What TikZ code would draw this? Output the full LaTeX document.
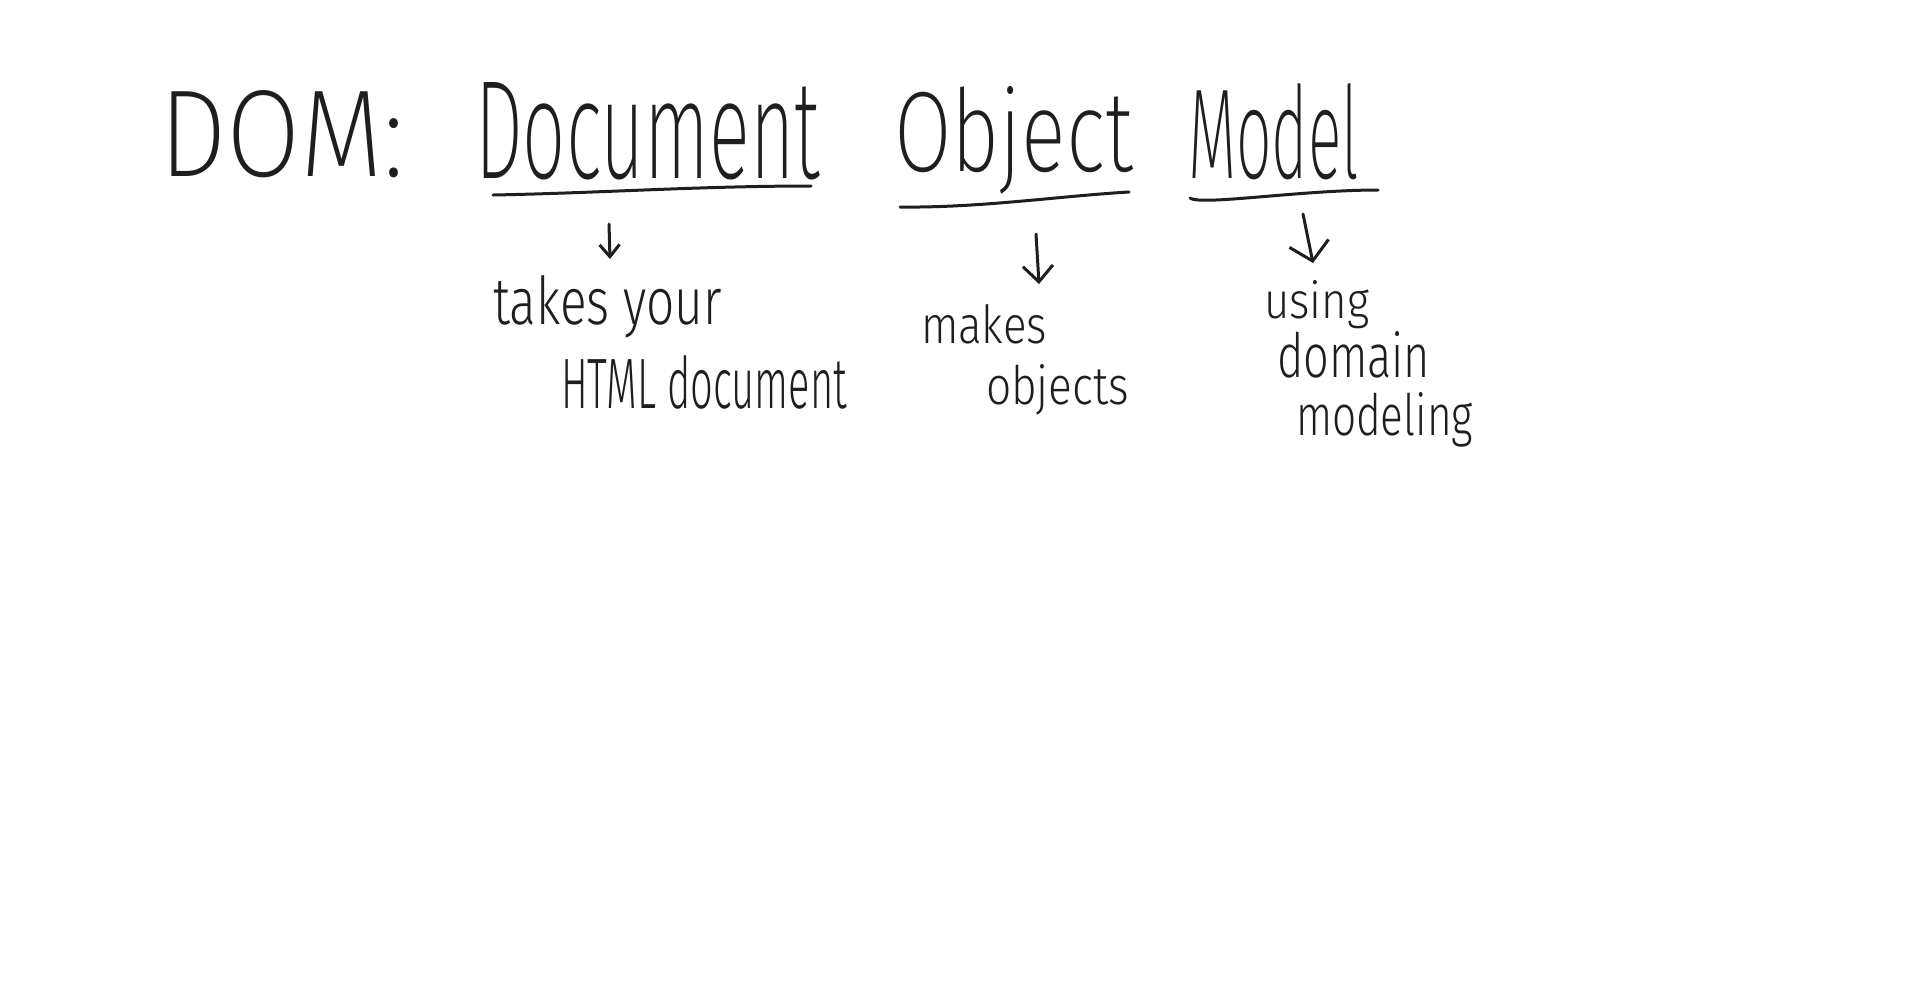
\documentclass[tikz,border=0pt]{standalone}
\usepackage{fontspec}
\usepackage{graphicx}
\newfontfamily\hand{Fira Sans Light}
\newfontfamily\handthin{Fira Sans ExtraLight}
\usetikzlibrary{arrows.meta}
\definecolor{ink}{HTML}{1E1E1E}
\tikzset{
  hw/.style={inner sep=0pt, outer sep=0pt, anchor=base west, text=ink},
  stroke/.style={draw=ink, line width=3pt, line cap=round, line join=round},
  harrow/.style={stroke, -{Straight Barb[length=16pt,width=30pt,line width=3pt]}},
}
\newcommand\hwtext[3]{\resizebox{#1pt}{#2pt}{\fontsize{40}{48}\hand #3}}
\newcommand\hwbig[3]{\resizebox{#1pt}{#2pt}{\fontsize{40}{48}\handthin #3}}
\begin{document}
\begin{tikzpicture}[x=1pt,y=-1pt]
\useasboundingbox (0,0) rectangle (1920,997);
\fill[white] (0,0) rectangle (1920,997);
% title words
\node[hw] (dom) at (159,176) {\hwbig{245}{86}{DOM:}};
\node[hw] (document) at (475,178) {\hwbig{345}{96}{Document}};
\node[hw] (object) at (894,171) {\hwbig{239}{85}{Object}};
\node[hw] (model) at (1188,178) {\hwbig{171}{95}{Model}};
% underlines
\draw[stroke] (493,195) .. controls (600,193) and (700,186) .. (811,186);
\draw[stroke] (900,207) .. controls (980,208) and (1060,196) .. (1129,192);
\draw[stroke] (1190,198) .. controls (1200,206) and (1300,190) .. (1378,190);
% explanations
\node[hw] (takes) at (493,324) {\hwtext{229}{49}{takes your}};
\node[hw] (html) at (561,408) {\hwtext{286}{53}{HTML document}};
\node[hw] (makes) at (921,343) {\hwtext{126}{39}{makes}};
\node[hw] (objects) at (986,404) {\hwtext{143}{40}{objects}};
\node[hw] (using) at (1264,318) {\hwtext{105}{38}{using}};
\node[hw] (domain) at (1277,377) {\hwtext{153}{46}{domain}};
\node[hw] (modeling) at (1296,435) {\hwtext{177}{43}{modeling}};
% arrows
\coordinate (a1s) at (609,224);
\coordinate (a1e) at (610,259);
\coordinate (a2s) at (1036,234);
\coordinate (a2e) at (1039,284);
\coordinate (a3s) at (1303,214);
\coordinate (a3e) at (1313,263);
\draw[harrow, -{Straight Barb[length=12pt,width=20pt,line width=3pt]}] (a1s) -- (a1e);
\draw[harrow] (a2s) -- (a2e);
\draw[harrow, -{Straight Barb[length=18pt,width=40pt,line width=3pt]}] (a3s) -- (a3e);
\end{tikzpicture}
\end{document}
